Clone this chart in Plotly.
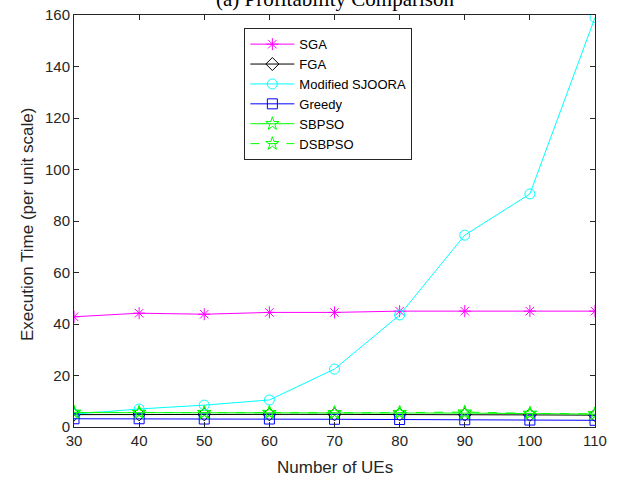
import plotly.graph_objects as go

ues = [30, 40, 50, 60, 70, 80, 90, 100, 110]
sga = [42.8, 44.2, 43.8, 44.5, 44.5, 45.0, 45.0, 45.0, 45.0]
fga = [4.8, 4.9, 4.9, 4.9, 4.9, 4.9, 4.8, 4.7, 4.6]
sjoora = [5.0, 7.0, 8.5, 10.5, 22.5, 43.5, 74.5, 90.5, 159.0]
greedy = [3.2, 3.2, 3.1, 3.1, 3.0, 2.9, 2.8, 2.7, 2.6]
sbpso = [5.6, 5.6, 5.5, 5.5, 5.5, 5.5, 5.4, 5.2, 5.0]
dsbpso = [5.7, 5.6, 5.6, 5.6, 5.5, 5.6, 5.8, 5.3, 5.1]

series = [
    ("SGA", sga, "#ff00ff", "asterisk-open", "solid"),
    ("FGA", fga, "#000000", "diamond-open", "solid"),
    ("Modified SJOORA", sjoora, "#00ffff", "circle-open", "solid"),
    ("Greedy", greedy, "#0000ff", "square-open", "solid"),
    ("SBPSO", sbpso, "#00ff00", "star-open", "solid"),
    ("DSBPSO", dsbpso, "#00ff00", "star-open", "dash"),
]

fig = go.Figure()
for name, vals, color, sym, dash in series:
    fig.add_trace(go.Scatter(
        x=ues, y=vals, name=name, mode="lines+markers",
        line=dict(color=color, width=1, dash=dash),
        marker=dict(symbol=sym, size=10, color=color, line=dict(color=color, width=1)),
    ))

axis_common = dict(
    showgrid=False, zeroline=False, showline=True, linecolor="#262626", linewidth=1,
    mirror="allticks", ticks="inside", ticklen=5, tickcolor="#262626", automargin=False,
    tickfont=dict(family="Liberation Sans, Arial", size=15, color="#262626"),
)

fig.update_layout(
    width=622, height=481,
    margin=dict(l=74, r=27, t=15, b=54),
    paper_bgcolor="white", plot_bgcolor="white",
    xaxis=dict(range=[30, 110], tickmode="array", tickvals=[30, 40, 50, 60, 70, 80, 90, 100, 110],
               **axis_common),
    yaxis=dict(range=[0, 160], tickmode="array", tickvals=[0, 20, 40, 60, 80, 100, 120, 140, 160],
               **axis_common),
    legend=dict(x=0.327, y=0.968, xanchor="left", yanchor="top",
                bgcolor="white", bordercolor="#262626", borderwidth=1,
                font=dict(family="Liberation Sans, Arial", size=13, color="black"),
                tracegroupgap=0, itemwidth=44),
    showlegend=True,
)

title_font = dict(family="Liberation Sans, Arial", size=17, color="#262626")
fig.add_annotation(text="Number of UEs", xref="paper", yref="paper", x=0.5, y=0,
                   yanchor="middle", xanchor="center", showarrow=False, yshift=-40, font=title_font)
fig.add_annotation(text="Execution Time (per unit scale)", xref="paper", yref="paper", x=0, y=0.5,
                   yanchor="middle", xanchor="center", showarrow=False, xshift=-47, yshift=-4,
                   textangle=-90, font=title_font)

fig.add_annotation(text="(a) Profitability Comparison", xref="paper", yref="paper",
                   x=0.5, y=1, yanchor="bottom", xanchor="center", showarrow=False, yshift=2,
                   font=dict(family="Liberation Serif, Times New Roman", size=21, color="black"))

fig.write_html("out.html")
